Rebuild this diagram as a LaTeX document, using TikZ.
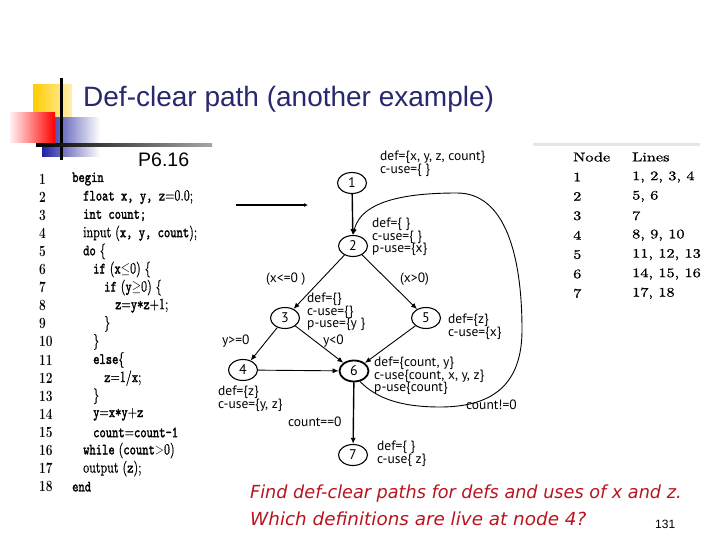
\documentclass[tikz,border=0pt]{standalone}
\usepackage{fontspec}
\usepackage{graphicx}
\usetikzlibrary{shapes.geometric,arrows.meta}
\newfontfamily\lsans{Liberation Sans}
\newfontfamily\gsans{PT Sans}
\newfontfamily\rsans{DejaVu Sans}
\newfontfamily\cmtb{lmmono10-regular}[Extension=.otf,FakeBold=2]
\newfontfamily\lmr{lmroman10-regular}[Extension=.otf,FakeBold=0.8]
\definecolor{titleblue}{RGB}{40,40,110}
\definecolor{qred}{RGB}{185,20,30}
\definecolor{decoblue}{RGB}{40,40,200}
\definecolor{decoyellow}{RGB}{255,204,0}
\newcommand{\K}[1]{{\cmtb #1}}
\newcommand{\CL}[1]{\scalebox{1}[1.3]{#1}}
\begin{document}
\begin{tikzpicture}[x=1pt,y=-1pt,
  vtx/.style={ellipse,draw,line width=1.1pt,minimum width=29pt,minimum height=21pt,inner sep=0pt,font=\gsans\fontsize{14}{14}\selectfont},
  lbl/.style={anchor=west,inner sep=0pt,text height=8pt,text depth=1.5pt,font=\gsans\fontsize{13.5}{13.5}\selectfont},
  edge/.style={-{Latex[length=6pt,width=5pt]},line width=0.9pt},
  codeline/.style={anchor=west,inner sep=0pt,font=\lmr\fontsize{12}{13}\selectfont},
  lnum/.style={anchor=west,inner sep=0pt,font=\bfseries\fontsize{12}{13}\selectfont},
  tab/.style={anchor=west,inner sep=0pt,font=\lmr\fontsize{13}{13}\selectfont}]
\useasboundingbox (0,0) rectangle (720,540);
\fill[white] (0,0) rectangle (720,540);
% title decoration
\shade[left color=decoyellow,right color=decoyellow!30] (33,85) rectangle (72,118);
\shade[left color=decoblue!80!black,right color=white] (42,118) rectangle (100,157);
\shade[left color=red!5,right color=red] (10,113) rectangle (55,143);
\draw[line width=3pt] (61,78) -- (61,160);
\shade[left color=black,right color=gray!70] (36,144) rectangle (212,147);
\node[anchor=base west,inner sep=0pt,text=titleblue,font=\lsans\fontsize{28}{28}\selectfont] (title) at (83,107) {Def-clear path (another example)};
\node[anchor=base west,inner sep=0pt,font=\lsans\fontsize{19.5}{19.5}\selectfont] (ref) at (138,167) {P6.16};
% code listing
\foreach \i [count=\k from 0] in {1,...,18} {
  \node[lnum] (n\i) at (39,179+18.1*\k) {\CL{\i}};
}
\node[codeline] (c1) at (72,179) {\CL{\K{begin}}};
\node[codeline] (c2) at (83,197.1) {\CL{\K{float x, y, z}=0.0;}};
\node[codeline] (c3) at (83,215.2) {\CL{\K{int count;}}};
\node[codeline] (c4) at (83,233.3) {\CL{input (\K{x, y, count});}};
\node[codeline] (c5) at (83,251.4) {\CL{\K{do} \{}};
\node[codeline] (c6) at (93,269.5) {\CL{\K{if} (\K{x}$\leq$0) \{}};
\node[codeline] (c7) at (104,287.6) {\CL{\K{if} (\K{y}$\geq$0) \{}};
\node[codeline] (c8) at (115,305.7) {\CL{\K{z}=\K{y*z}+1;}};
\node[codeline] (c9) at (104,323.8) {\CL{\}}};
\node[codeline] (c10) at (93,341.9) {\CL{\}}};
\node[codeline] (c11) at (93,360) {\CL{\K{else}\{}};
\node[codeline] (c12) at (104,378.1) {\CL{\K{z}=1/\K{x};}};
\node[codeline] (c13) at (93,396.2) {\CL{\}}};
\node[codeline] (c14) at (93,414.3) {\CL{\K{y}=\K{x*y}+\K{z}}};
\node[codeline] (c15) at (93,432.4) {\CL{\K{count}=\K{count-1}}};
\node[codeline] (c16) at (83,450.5) {\CL{\K{while} (\K{count}$>$0)}};
\node[codeline] (c17) at (83,468.6) {\CL{output (\K{z});}};
\node[codeline] (c18) at (72,486.7) {\CL{\K{end}}};
% pointer arrow
\coordinate (pa) at (236,205);
\coordinate (pb) at (308,205);
\draw[line width=1.4pt,-{Latex[length=4pt,width=4pt]}] (pa) -- (pb);
% graph
\node[vtx] (v1) at (352,183) {1};
\node[vtx] (v2) at (353,246) {2};
\node[vtx] (v3) at (285,318) {3};
\node[vtx] (v4) at (243,370) {4};
\node[vtx] (v5) at (426,318) {5};
\node[vtx,line width=1.8pt] (v6) at (354,371) {6};
\node[vtx] (v7) at (353,455) {7};
\draw[edge,line width=1.4pt] (v1) -- (v2);
\draw[edge] (v2) -- (v3);
\draw[edge] (v2) -- (v5);
\draw[edge] (v3) -- (v4);
\draw[edge] (v3) -- (v6);
\draw[edge] (v4) -- (v6);
\draw[edge] (v5) -- (v6);
\draw[edge,line width=1.4pt] (v6) -- (v7);
\draw[edge] (v6.-60) .. controls (376,398) and (400,407) .. (440,407)
   .. controls (492,407) and (522,385) .. (522,330)
   .. controls (522,255) and (505,193) .. (457,193)
   .. controls (415,193) and (362,198) .. (v2.north);
% labels
\node[lbl] (d1a) at (380,157.5) {def=\{x, y, z, count\}};
\node[lbl] (d1b) at (380,170) {c-use=\{ \}};
\node[lbl] (d2a) at (372,224.5) {def=\{ \}};
\node[lbl] (d2b) at (372,237) {c-use=\{ \}};
\node[lbl] (d2c) at (372,249.5) {p-use=\{x\}};
\node[lbl] (e23) at (266,279) {(x<=0 )};
\node[lbl] (e25) at (400,279) {(x>0)};
\node[lbl] (d3a) at (307,299.5) {def=\{\}};
\node[lbl] (d3b) at (307,312) {c-use=\{\}};
\node[lbl] (d3c) at (307,324.5) {p-use=\{y \}};
\node[lbl] (e34) at (222,341) {y>=0};
\node[lbl] (e36) at (323,341) {y<0};
\node[lbl] (d5a) at (448,320.5) {def=\{z\}};
\node[lbl] (d5b) at (448,333) {c-use=\{x\}};
\node[lbl] (d6a) at (374,363.5) {def=\{count, y\}};
\node[lbl] (d6b) at (374,376) {c-use\{count, x, y, z\}};
\node[lbl] (d6c) at (374,388.5) {p-use\{count\}};
\node[lbl] (d4a) at (218,392) {def=\{z\}};
\node[lbl] (d4b) at (218,405) {c-use=\{y, z\}};
\node[lbl] (e62) at (466,406) {count!=0};
\node[lbl] (e67) at (288,423) {count==0};
\node[lbl] (d7a) at (377,447) {def=\{ \}};
\node[lbl] (d7b) at (377,460) {c-use\{ z\}};
% table
\fill[gray!20] (533,143.5) rectangle (700,146.5);
\node[tab] (th1) at (573,157) {\scalebox{1.25}[1]{Node}};
\node[tab] (th2) at (632,157) {\scalebox{1.25}[1]{Lines}};
\foreach \n/\l [count=\k from 0] in {1/{1, 2, 3, 4},2/{5, 6},3/{7},4/{8, 9, 10},5/{11, 12, 13},6/{14, 15, 16},7/{17, 18}} {
  \node[tab] (tn\n) at (573,177+19.4*\k) {\scalebox{1.25}[1]{\n}};
  \node[tab] (tl\n) at (632,177+19.4*\k) {\scalebox{1.25}[1]{\l}};
}
% question
\node[anchor=base west,inner sep=0pt,text=qred,font=\rsans\itshape\fontsize{18}{18}\selectfont] (q1) at (250,498) {\scalebox{0.98}[1]{Find def-clear paths for defs and uses of x and z.}};
\node[anchor=base west,inner sep=0pt,text=qred,font=\rsans\itshape\fontsize{18}{18}\selectfont] (q2) at (250,525) {\scalebox{1.02}[1]{Which definitions are live at node 4?}};
\node[anchor=base west,inner sep=0pt,font=\lsans\fontsize{12}{12}\selectfont] (pg) at (655,528) {131};
\end{tikzpicture}
\end{document}
